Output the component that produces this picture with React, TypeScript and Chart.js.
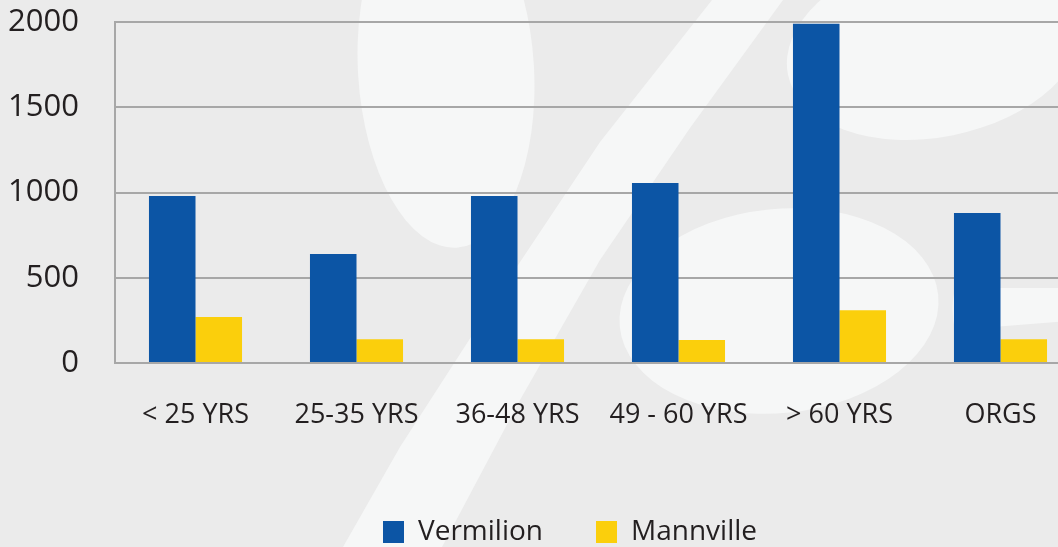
import React, { useEffect, useRef } from "react";
import { Chart, registerables } from "chart.js";

Chart.register(...registerables);

const categories = ["< 25 YRS", "25-35 YRS", "36-48 YRS", "49 - 60 YRS", "> 60 YRS", "ORGS"];
const vermilion = [980, 640, 980, 1055, 1990, 880];
const mannville = [270, 140, 140, 135, 310, 140];
const seriesNames = ["Vermilion", "Mannville"];
const yTicks = [0, 500, 1000, 1500, 2000];

const BG = "#ebebeb";
const LIGHT = "#f6f7f7";
const FONT = "'Open Sans', sans-serif";

const backgroundPlugin = {
  id: "bgShapes",
  beforeDraw(chart: any) {
    const ctx = chart.ctx as CanvasRenderingContext2D;
    ctx.save();
    ctx.fillStyle = BG;
    ctx.fillRect(0, 0, chart.width, chart.height);
    ctx.fillStyle = LIGHT;
    // top-left oval
    ctx.beginPath();
    ctx.ellipse(446, 70, 88, 178, -0.06, 0, Math.PI * 2);
    ctx.fill();
    // diagonal band
    ctx.beginPath();
    ctx.moveTo(343, 547);
    ctx.lineTo(400, 447);
    ctx.lineTo(500, 292);
    ctx.lineTo(600, 142);
    ctx.lineTo(712, 0);
    ctx.lineTo(783, 0);
    ctx.lineTo(690, 128);
    ctx.lineTo(600, 260);
    ctx.lineTo(520, 400);
    ctx.lineTo(442, 547);
    ctx.closePath();
    ctx.fill();
    // top-right ellipse
    ctx.beginPath();
    ctx.ellipse(935, 45, 150, 92, -0.2, 0, Math.PI * 2);
    ctx.fill();
    // lower-middle ellipse
    ctx.beginPath();
    ctx.ellipse(779, 311, 160, 102, -0.1, 0, Math.PI * 2);
    ctx.fill();
    // right stroke
    ctx.beginPath();
    ctx.moveTo(955, 288);
    ctx.lineTo(1081, 288);
    ctx.lineTo(1081, 320);
    ctx.lineTo(955, 330);
    ctx.quadraticCurveTo(950, 309, 955, 288);
    ctx.closePath();
    ctx.fill();
    ctx.restore();
  },
};

// centre the legend row the way the original sits (offset to the right)
const legendShiftPlugin = {
  id: "legendShift",
  afterLayout(chart: any) {
    if (chart.legend) {
      chart.legend.left = 59;
    }
  },
};

export default function App() {
  const ref = useRef<HTMLCanvasElement>(null);

  useEffect(() => {
    const canvas = ref.current;
    if (!canvas) return;
    const chart = new Chart(canvas, {
      type: "bar",
      data: {
        labels: categories,
        datasets: [
          {
            label: seriesNames[0],
            data: vermilion,
            backgroundColor: "#0c55a5",
            borderWidth: 0,
            barPercentage: 1,
            categoryPercentage: 0.578,
          },
          {
            label: seriesNames[1],
            data: mannville,
            backgroundColor: "#fbcf0c",
            borderWidth: 0,
            barPercentage: 1,
            categoryPercentage: 0.578,
          },
        ],
      },
      options: {
        responsive: false,
        animation: false,
        devicePixelRatio: 1,
        layout: { padding: { top: 22, left: 0, right: 0, bottom: -9 } },
        plugins: {
          tooltip: { enabled: false },
          legend: {
            position: "bottom",
            labels: {
              boxWidth: 21,
              boxHeight: 22,
              padding: 53,
              color: "#231f20",
              font: { family: FONT, size: 28 },
            },
          },
        },
        scales: {
          x: {
            grid: { display: false, drawTicks: false },
            border: { display: false },
            ticks: {
              color: "#231f20",
              padding: 36,
              maxRotation: 0,
              autoSkip: false,
              font: { family: FONT, size: 27 },
            },
            afterFit: (scale: any) => {
              scale.height = 102;
            },
          },
          y: {
            min: 0,
            max: 2000,
            afterBuildTicks: (scale: any) => {
              scale.ticks = yTicks.map((v) => ({ value: v }));
            },
            grid: {
              color: "#a7a7a7",
              lineWidth: 2,
              drawTicks: true,
              tickLength: 33,
              tickColor: "rgba(0,0,0,0)",
            },
            border: { display: true, color: "#a7a7a7", width: 2 },
            ticks: {
              color: "#231f20",
              padding: 3,
              font: { family: FONT, size: 31 },
              callback: (value: any) => String(value),
            },
            afterFit: (scale: any) => {
              scale.width = 115;
            },
          },
        },
      },
      plugins: [backgroundPlugin, legendShiftPlugin],
    });
    return () => chart.destroy();
  }, []);

  return (
    <div
      style={{
        position: "absolute",
        left: 0,
        top: 0,
        width: 1058,
        height: 547,
        overflow: "hidden",
        background: BG,
      }}
    >
      <canvas ref={ref} width={1081} height={547} style={{ display: "block" }} />
    </div>
  );
}
